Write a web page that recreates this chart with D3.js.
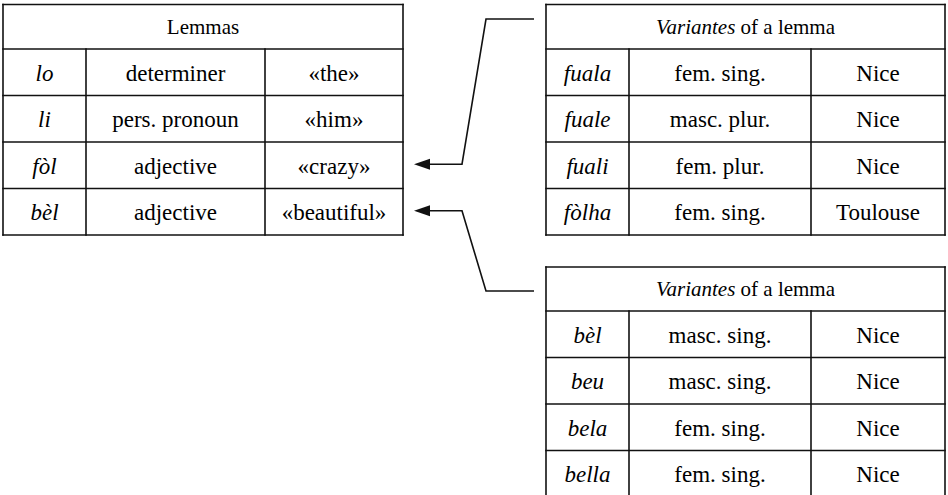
<!DOCTYPE html>
<html>
<head>
<meta charset="utf-8">
<script src="https://cdn.jsdelivr.net/npm/d3@7"></script>
<style>
  html, body { margin: 0; padding: 0; background: #fff; }
  svg { display: block; }
</style>
</head>
<body>
<svg id="chart" width="948" height="495"></svg>
<script>
// ---- data ----
const lemmaTitle = "Lemmas";
const lemmaForms = ["lo", "li", "fòl", "bèl"];
const lemmaCategories = ["determiner", "pers. pronoun", "adjective", "adjective"];
const lemmaGlosses = ["«the»", "«him»", "«crazy»", "«beautiful»"];

const variantTitleItalic = "Variantes";
const variantTitleRest = " of a lemma";

const folForms = ["fuala", "fuale", "fuali", "fòlha"];
const folCategories = ["fem. sing.", "masc. plur.", "fem. plur.", "fem. sing."];
const folPlaces = ["Nice", "Nice", "Nice", "Toulouse"];

const belForms = ["bèl", "beu", "bela", "bella"];
const belCategories = ["masc. sing.", "masc. sing.", "fem. sing.", "fem. sing."];
const belPlaces = ["Nice", "Nice", "Nice", "Nice"];

// which lemma row each variant table links to
const links = [
  { lemmaIndex: 2, table: "fol" },
  { lemmaIndex: 3, table: "bel" }
];

// ---- layout ----
const svg = d3.select("#chart");
const FS = 23;
const FONT = "Liberation Serif";

function drawTable(cfg) {
  const g = svg.append("g");
  const rowsY = d3.scaleBand()
    .domain(d3.range(cfg.rows.length))
    .range([cfg.headerBottom, cfg.headerBottom + cfg.rowH * cfg.rows.length])
    .paddingInner(0).paddingOuter(0);
  const colX = d3.scaleOrdinal().domain([0, 1, 2, 3]).range(cfg.cols);

  // header text
  const hx = (cfg.cols[0] + cfg.cols[3]) / 2;
  const ht = g.append("text")
    .attr("x", hx)
    .attr("y", (cfg.top + cfg.headerBottom) / 2 + 7)
    .attr("text-anchor", "middle")
    .attr("font-family", FONT)
    .attr("font-size", 21);
  cfg.header.forEach(h => {
    ht.append("tspan").style("font-style", h.italic ? "italic" : "normal").text(h.text);
  });

  // cells
  const cells = [];
  cfg.rows.forEach((row, i) => row.forEach((val, c) => cells.push({ i, c, val })));
  g.selectAll("text.cell").data(cells).join("text")
    .attr("class", "cell")
    .attr("x", d => (colX(d.c) + colX(d.c + 1)) / 2)
    .attr("y", d => rowsY(d.i) + rowsY.bandwidth() / 2 + 8.5)
    .attr("text-anchor", "middle")
    .attr("font-family", FONT)
    .attr("font-size", FS)
    .style("font-style", d => d.c === 0 ? "italic" : "normal")
    .text(d => d.val);

  // grid lines
  const bottom = cfg.headerBottom + cfg.rowH * cfg.rows.length;
  const lines = [];
  lines.push([cfg.cols[0], cfg.top, cfg.cols[3], cfg.top]);
  lines.push([cfg.cols[0], bottom, cfg.cols[3], bottom]);
  lines.push([cfg.cols[0], cfg.top, cfg.cols[0], bottom]);
  lines.push([cfg.cols[3], cfg.top, cfg.cols[3], bottom]);
  lines.push([cfg.cols[0], cfg.headerBottom, cfg.cols[3], cfg.headerBottom]);
  d3.range(1, cfg.rows.length).forEach(i => {
    lines.push([cfg.cols[0], rowsY(i), cfg.cols[3], rowsY(i)]);
  });
  [1, 2].forEach(c => lines.push([colX(c), cfg.headerBottom, colX(c), bottom]));
  g.selectAll("line").data(lines).join("line")
    .attr("x1", d => d[0]).attr("y1", d => d[1])
    .attr("x2", d => d[2]).attr("y2", d => d[3])
    .attr("stroke", "#111").attr("stroke-width", 1.6)
    .attr("stroke-linecap", "square");

  return { rowsY };
}

const lemmaTable = drawTable({
  top: 4.5, headerBottom: 49, rowH: 46.5,
  cols: [3, 86, 265, 403],
  header: [{ text: lemmaTitle, italic: false }],
  rows: d3.zip(lemmaForms, lemmaCategories, lemmaGlosses)
});

drawTable({
  top: 4.5, headerBottom: 49, rowH: 46.5,
  cols: [546, 629, 811, 945],
  header: [{ text: variantTitleItalic, italic: true }, { text: variantTitleRest, italic: false }],
  rows: d3.zip(folForms, folCategories, folPlaces)
});

drawTable({
  top: 267, headerBottom: 311, rowH: 46.5,
  cols: [546, 629, 811, 945],
  header: [{ text: variantTitleItalic, italic: true }, { text: variantTitleRest, italic: false }],
  rows: d3.zip(belForms, belCategories, belPlaces)
});

// ---- connectors ----
const tipX = 414, elbowX = 462, slantX = 486, endX = 534;
const line = d3.line();
links.forEach(l => {
  const y0 = lemmaTable.rowsY(l.lemmaIndex) + lemmaTable.rowsY.bandwidth() / 2 - 1;
  const y1 = l.table === "fol" ? 19 : 291;
  svg.append("path")
    .attr("d", line([[tipX + 12, y0], [elbowX, y0], [slantX, y1], [endX, y1]]))
    .attr("fill", "none").attr("stroke", "#111").attr("stroke-width", 1.6);
  svg.append("path")
    .attr("d", line([[tipX, y0], [tipX + 16, y0 - 5.5], [tipX + 16, y0 + 5.5]]) + "Z")
    .attr("fill", "#111");
});
</script>
</body>
</html>
